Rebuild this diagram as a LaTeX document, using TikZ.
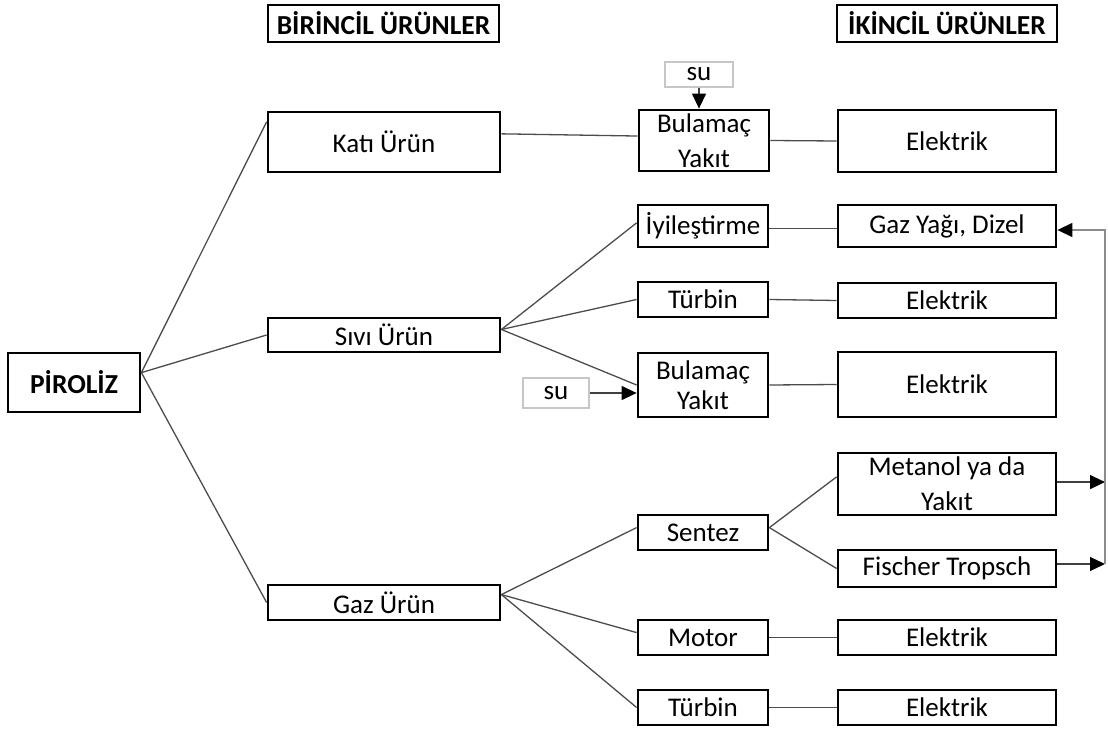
\documentclass[tikz,border=0pt]{standalone}
\usepackage{fontspec}
\setmainfont{Carlito}
\usetikzlibrary{arrows.meta,calc}
\begin{document}
\begin{tikzpicture}[x=1pt,y=-1pt,
  box/.style={draw=black,line width=2.8pt,inner sep=0pt,align=center,
    font=\fontsize{27}{32}\selectfont},
  hbox/.style={box,font=\fontsize{27.5}{32}\selectfont\bfseries},
  subox/.style={draw=black!22,line width=1.2pt,inner sep=0pt,
    font=\fontsize{27}{32}\selectfont},
  conn/.style={draw=black!70,line width=1.3pt},
  tip/.style={-{Triangle[length=15pt,width=14pt,color=black]}},
  arr/.style={draw=black!75,line width=1.3pt,tip},
  vline/.style={draw=black!45,line width=1.4pt}]
\useasboundingbox (0,0) rectangle (1108,733);
% headers
\node[hbox,minimum width=231,minimum height=37] (h1) at (383.5,23.5) {BİRİNCİL ÜRÜNLER};
\node[hbox,minimum width=220,minimum height=37] (h2) at (947,23.5) {İKİNCİL ÜRÜNLER};
% pyrolysis
\node[hbox,minimum width=132,minimum height=59] (pir) at (74,382.5) {PİROLİZ};
% primary products
\node[box,minimum width=232,minimum height=60] (kati) at (384,142) {Katı Ürün};
\node[box,minimum width=232,minimum height=34] (sivi) at (384,335) {Sıvı Ürün};
\node[box,minimum width=232,minimum height=35] (gaz) at (384,602.5) {Gaz Ürün};
% middle column
\node[box,minimum width=130,minimum height=61,font=\fontsize{27}{35}\selectfont] (bul1) at (704,140.5) {Bulamaç\\Yakıt};
\node[subox,minimum width=68,minimum height=25] (su1) at (699,74.5) {su};
\node[box,minimum width=130,minimum height=42] (iyi) at (703,226) {İyileştirme};
\node[box,minimum width=130,minimum height=35] (tur1) at (703,299.5) {Türbin};
\node[box,minimum width=130,minimum height=64,font=\fontsize{27}{30}\selectfont] (bul2) at (703,385) {Bulamaç\\Yakıt};
\node[subox,minimum width=66,minimum height=30] (su2) at (556,393) {su};
\node[box,minimum width=130,minimum height=35] (sen) at (703,532.5) {Sentez};
\node[box,minimum width=130,minimum height=35] (mot) at (703,637.5) {Motor};
\node[box,minimum width=130,minimum height=35] (tur2) at (703,707.5) {Türbin};
% right column
\node[box,minimum width=218,minimum height=62] (e1) at (947,141) {Elektrik};
\node[box,minimum width=218,minimum height=42] (gy) at (947,226) {Gaz Yağı, Dizel};
\node[box,minimum width=218,minimum height=35] (e2) at (947,300.5) {Elektrik};
\node[box,minimum width=218,minimum height=65] (e3) at (947,384.5) {Elektrik};
\node[box,minimum width=218,minimum height=62,font=\fontsize{27}{35}\selectfont] (met) at (947,484) {Metanol ya da\\Yakıt};
\node[box,minimum width=218,minimum height=37] (fis) at (947,568.5) {Fischer Tropsch};
\node[box,minimum width=218,minimum height=35] (e4) at (947,637.5) {Elektrik};
\node[box,minimum width=218,minimum height=35] (e5) at (947,707.5) {Elektrik};
% connection points
\coordinate (pR) at ($(pir.north east)!0.34!(pir.south east)$);
\coordinate (sR) at ($(sivi.north east)!0.35!(sivi.south east)$);
\coordinate (gR) at ($(gaz.north east)!0.29!(gaz.south east)$);
\coordinate (senR) at ($(sen.north east)!0.37!(sen.south east)$);
\coordinate (vt) at (1105,230);
\coordinate (vb) at (1105,564);
% pyrolysis to primary
\draw[conn] (pR) -- ($(kati.north west)!0.18!(kati.south west)$);
\draw[conn] (pR) -- (sivi.west);
\draw[conn] (pR) -- (gaz.west);
% solid
\draw[conn] ($(kati.north east)!0.37!(kati.south east)$) -- ($(bul1.north west)!0.43!(bul1.south west)$);
\draw[conn] (bul1.east) -- (e1.west);
\draw[arr] (su1.south) -- (su1.south |- bul1.north);
% liquid
\draw[conn] (sR) -- ($(iyi.north west)!0.43!(iyi.south west)$);
\draw[conn] (sR) -- (tur1.west);
\draw[conn] (sR) -- (bul2.west);
\draw[arr] (su2.east) -- (su2.east -| bul2.west);
\draw[conn] ($(iyi.north east)!0.55!(iyi.south east)$) -- ($(gy.north west)!0.55!(gy.south west)$);
\draw[conn] (tur1.east) -- (e2.west);
\draw[conn] (bul2.east) -- (e3.west);
% gas
\draw[conn] (gR) -- ($(sen.north west)!0.37!(sen.south west)$);
\draw[conn] (gR) -- ($(mot.north west)!0.37!(mot.south west)$);
\draw[conn] (gR) -- ($(tur2.north west)!0.5!(tur2.south west)$);
\draw[conn] (senR) -- ($(met.north west)!0.39!(met.south west)$);
\draw[conn] (senR) -- (fis.west);
\draw[conn] (mot.east) -- (e4.west);
\draw[conn] (tur2.east) -- (e5.west);
% return arrows
\draw[arr] ($(met.north east)!0.47!(met.south east)$) coordinate (m1) -- (m1 -| vt);
\draw[arr] (fis.east |- vb) -- (vb);
\draw[vline,tip] (vb) -- (vt) -- (vt -| gy.east);
\end{tikzpicture}
\end{document}
